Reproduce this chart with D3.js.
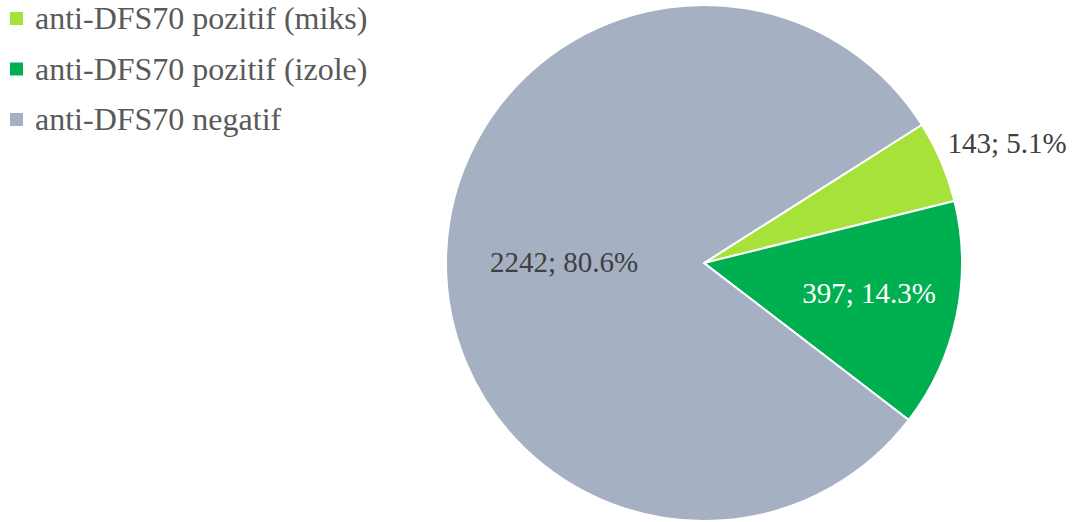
<!DOCTYPE html>
<html><head><meta charset="utf-8">
<script src="https://cdn.jsdelivr.net/npm/d3@7"></script>
<style>body{margin:0;background:#fff;font-family:'Liberation Serif',serif}svg{display:block}</style>
</head><body>
<svg id="c" width="1082" height="522" font-family="Liberation Serif"></svg>
<script>
const categories = ["anti-DFS70 pozitif (miks)", "anti-DFS70 pozitif (izole)", "anti-DFS70 negatif"];
const counts = [143, 397, 2242];
const percents = ["5.1%", "14.3%", "80.6%"];
const colors = ["#a6e23a", "#00b050", "#a5b0c2"];

const svg = d3.select("#c");
const cx = 704, cy = 263, r = 258;
const start = 57.6 * Math.PI / 180;
const data = categories.map((c, i) => ({c, v: counts[i], p: percents[i], col: colors[i]}));
const pie = d3.pie().value(d => d.v).sort(null).startAngle(start).endAngle(start + 2 * Math.PI);
const arcs = pie(data);
const arc = d3.arc().innerRadius(0).outerRadius(r);
const g = svg.append("g").attr("transform", `translate(${cx},${cy})`);
g.selectAll("path").data(arcs).join("path")
  .attr("d", arc).attr("fill", d => d.data.col)
  .attr("stroke", "#fff").attr("stroke-width", 2);

const labelPos = [[1007, 153, "#404040"], [869, 303, "#ffffff"], [564, 272, "#404040"]];
svg.selectAll("text.lbl").data(arcs).join("text").attr("class", "lbl")
  .attr("x", (d, i) => labelPos[i][0]).attr("y", (d, i) => labelPos[i][1])
  .attr("text-anchor", "middle")
  .attr("font-family", "Liberation Serif").attr("font-size", 29)
  .attr("fill", (d, i) => labelPos[i][2])
  .text(d => `${d.data.v}; ${d.data.p}`);

const leg = svg.append("g");
const rows = leg.selectAll("g").data(data).join("g")
  .attr("transform", (d, i) => `translate(0,${29 + i * 50.5})`);
rows.append("rect").attr("x", 10).attr("y", -17).attr("width", 13).attr("height", 13).attr("fill", d => d.col);
rows.append("text").attr("x", 35).attr("y", 0)
  .attr("font-family", "Liberation Serif").attr("font-size", 32)
  .attr("fill", "#595959").text(d => d.c);
</script>
</body></html>
